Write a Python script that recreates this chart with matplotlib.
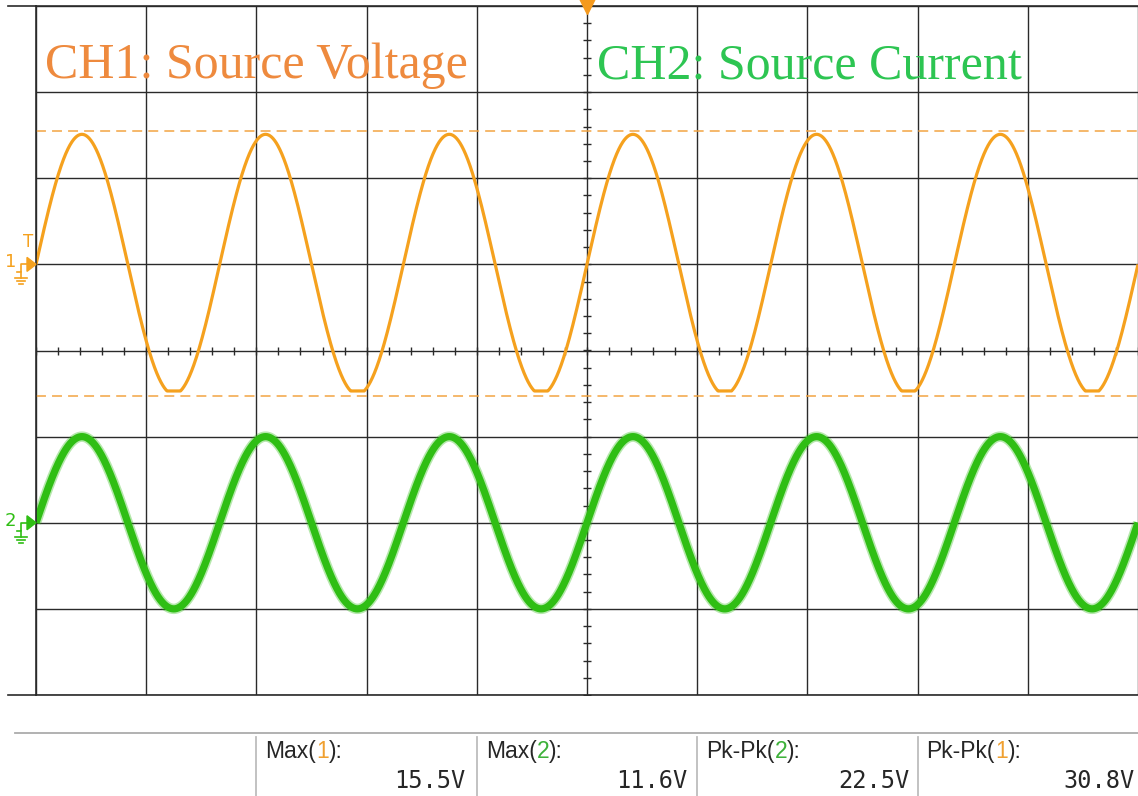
import numpy as np
import matplotlib.pyplot as plt
import matplotlib.transforms as mtransforms
from matplotlib.lines import Line2D

# scope settings: 10 ms/div, 10 V/div on both channels
t_div = 10.0
v_div = [10.0, 10.0]
ch_offset = [1.0, -2.0]     # ground marker position, in divisions
freq = 60.0                 # Hz
trig_t = 50.0               # ms, trigger at screen centre

ch1_amp = 15.1
ch1_floor = -14.7           # flat bottoms on the voltage trace
ch2_amp = 10.0

# measurement readout
meas_names = ["Max", "Max", "Pk-Pk", "Pk-Pk"]
meas_ch = ["1", "2", "2", "1"]
meas_vals = ["15.5V", "11.6V", "22.5V", "30.8V"]
ch1_max = 15.5
ch1_pkpk = 30.8

c_or = "#F5A11E"
c_or_txt = "#EE8A3E"
c_gr = "#2FBE14"
c_gr_txt = "#2DC552"
c_grid = "#2a2a2a"

W, H = 1138, 796
fig = plt.figure(figsize=(W / 100, H / 100), dpi=100)
fig.patch.set_facecolor("white")
ax = fig.add_axes([36 / W, 101 / H, 1102 / W, 689 / H])
ax.set_xlim(0, 10 * t_div)
ax.set_ylim(-4, 4)
ax.set_xticks(np.arange(0, 10 * t_div + 1, t_div))
ax.set_yticks(np.arange(-4, 5, 1))
ax.tick_params(length=0, labelbottom=False, labelleft=False)
ax.grid(True, color=c_grid, lw=1.0)
for s in ["left", "top", "bottom"]:
    ax.spines[s].set_color(c_grid)
    ax.spines[s].set_linewidth(1.2)
ax.spines["right"].set_visible(False)

# frame lines run a bit past the left edge
for yf in [790 / H, 101 / H]:
    fig.add_artist(Line2D([8 / W, 36 / W], [yf, yf], color=c_grid, lw=1.2))

# minor ticks on the centre cross
xt = np.arange(0, 10 * t_div + 0.01, t_div / 5)
yt = np.arange(-4, 4.01, 0.2)
ax.plot(xt, np.zeros_like(xt), ls="none", marker="|", ms=6, mew=1.0, color=c_grid)
ax.plot(np.full_like(yt, 5 * t_div), yt, ls="none", marker="_", ms=6, mew=1.0, color=c_grid)

# traces
t = np.linspace(0, 10 * t_div, 4000)
ph = 2 * np.pi * freq * (t - trig_t) / 1000.0
ch1 = np.clip(ch1_amp * np.sin(ph), ch1_floor, None)
ch2 = ch2_amp * np.sin(ph)

ax.plot(t, ch2 / v_div[1] + ch_offset[1], color=c_gr, lw=7.5, alpha=0.35, solid_capstyle="butt")
ax.plot(t, ch2 / v_div[1] + ch_offset[1], color=c_gr, lw=5.2, solid_capstyle="butt")
ax.plot(t, ch1 / v_div[0] + ch_offset[0], color=c_or, lw=2.3, solid_capstyle="butt")

# cursors at CH1 max and max - pk-pk
for v in [ch1_max, ch1_max - ch1_pkpk]:
    ax.axhline(v / v_div[0] + ch_offset[0], color="#F2A443", lw=1.1, dashes=[6.5, 4])

# trigger position
ax.plot(trig_t, 4, marker="v", ms=11, color="#F59A1E", clip_on=False, zorder=5)

ax.text(0.008, 0.8955, "CH1: Source Voltage", transform=ax.transAxes, color=c_or_txt,
        fontsize=36, family="Liberation Serif", va="baseline", ha="left")
ax.text((597 - 36) / 1102, 0.8955, "CH2: Source Current", transform=ax.transAxes, color=c_gr_txt,
        fontsize=36, family="Liberation Serif", va="baseline", ha="left")


# channel ground markers on the left edge
def gnd_marker(num, off, col, trig=False):
    x0, y0 = ax.transData.transform((0, off))
    tr = mtransforms.Affine2D().scale(1, -1).translate(x0, y0)
    step = [(-19, 8), (-15, 8), (-15, 0), (-8, 0)]
    fig.add_artist(Line2D([p[0] for p in step], [p[1] for p in step], color=col, lw=1.2,
                          transform=tr))
    fig.add_artist(Line2D([-15, -15], [8, 14], color=col, lw=1.2, transform=tr))
    for dy, hw in [(14, 6), (17, 4), (20, 2)]:
        fig.add_artist(Line2D([-15 - hw, -15 + hw], [dy, dy], color=col, lw=1.2, transform=tr))
    fig.add_artist(plt.Polygon([(-9, -7), (0, 0), (-9, 7)], closed=True, color=col, transform=tr))
    fig.text(x0 - 20, y0 + 2, num, color=col, fontsize=13, ha="right", va="center",
             transform=None)
    if trig:
        fig.text(x0 - 8, y0 + 22, "T", color=col, fontsize=12, ha="center", va="center",
                 transform=None)


gnd_marker("1", ch_offset[0], c_or, trig=True)
gnd_marker("2", ch_offset[1], c_gr)

# measurement panel
fig.add_artist(Line2D([15 / W, 1.0], [1 - 733 / H, 1 - 733 / H], color="#ABABAB", lw=1.3))
bt = mtransforms.blended_transform_factory(ax.transData, fig.transFigure)
cols = [2 * t_div, 4 * t_div, 6 * t_div, 8 * t_div, 10 * t_div]
right_pad = [-11, -10, -8, -3]
ch_col = {"1": "#F0A030", "2": "#3DB13A"}
for i in range(4):
    fig.add_artist(Line2D([cols[i], cols[i]], [0, 1 - 737 / H], color="#BDBDBD", lw=1.3,
                          transform=bt))
    a = ax.annotate(meas_names[i] + "(", xy=(cols[i], 1 - 758 / H), xycoords=bt,
                    xytext=(9, 0), textcoords="offset pixels", fontsize=16.5,
                    family="Liberation Sans", color="#262626", va="baseline", ha="left",
                    annotation_clip=False)
    b = ax.annotate(meas_ch[i], xy=(1, 0), xycoords=a, fontsize=16.5, family="Liberation Sans",
                    color=ch_col[meas_ch[i]], va="bottom", ha="left", annotation_clip=False)
    ax.annotate("):", xy=(1, 0), xycoords=b, fontsize=16.5, family="Liberation Sans",
                color="#262626", va="bottom", ha="left", annotation_clip=False)
    ax.annotate(meas_vals[i], xy=(cols[i + 1], 1 - 788 / H), xycoords=bt,
                xytext=(right_pad[i], 0), textcoords="offset pixels", fontsize=17,
                family="DejaVu Sans Mono", color="#262626", va="baseline", ha="right",
                annotation_clip=False)

fig.savefig("out.png", dpi=100)
